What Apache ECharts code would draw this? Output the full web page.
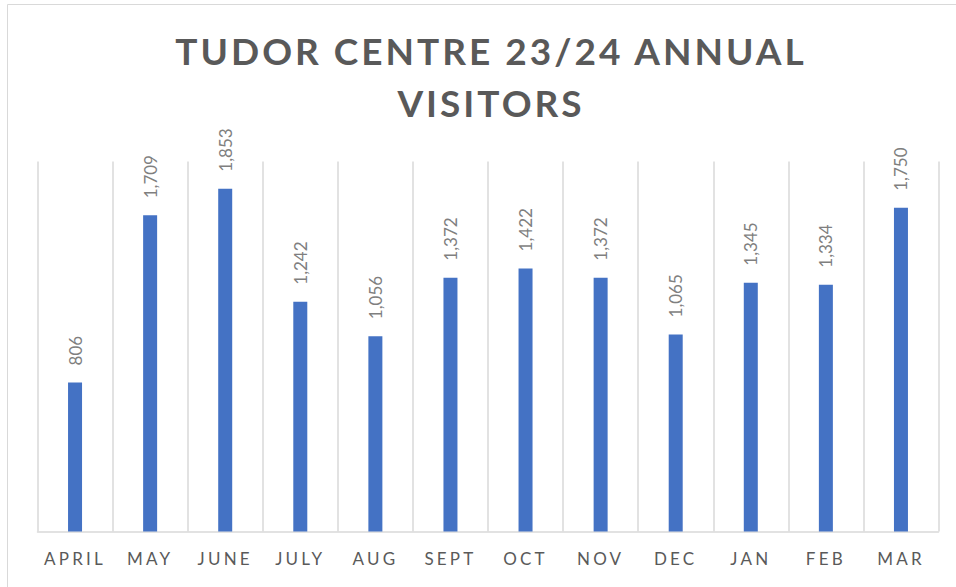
<!DOCTYPE html>
<html>
<head>
<meta charset="utf-8">
<script src="https://cdn.jsdelivr.net/npm/echarts@6/dist/echarts.min.js"></script>
<style>
  html, body { margin: 0; padding: 0; background: #ffffff; }
  #chart { width: 956px; height: 587px; }
  /* tracked capitals for the heading and month names */
  #chart text[fill="#595959"] { letter-spacing: 3px; }
  #chart text[fill="#5a5a5a"] { letter-spacing: 3.2px; }
</style>
</head>
<body>
<div id="chart"></div>
<script>
// Monthly visitor counts, April 2023 to March 2024
const months = ['APRIL', 'MAY', 'JUNE', 'JULY', 'AUG', 'SEPT', 'OCT', 'NOV', 'DEC', 'JAN', 'FEB', 'MAR'];
const visitors = [806, 1709, 1853, 1242, 1056, 1372, 1422, 1372, 1065, 1345, 1334, 1750];
const valueAxisMax = 2000;
const chartTitle = 'TUDOR CENTRE 23/24 ANNUAL\nVISITORS';

const chart = echarts.init(document.getElementById('chart'), null, { renderer: 'svg' });

chart.setOption({
  animation: false,
  backgroundColor: '#ffffff',
  graphic: [{
    type: 'rect',
    silent: true,
    shape: { x: 7.5, y: 4.5, width: 960, height: 600 },
    style: { fill: 'none', stroke: '#d9d9d9', lineWidth: 1 }
  }],
  title: {
    text: chartTitle,
    left: 486,
    top: 19,
    textAlign: 'center',
    textStyle: {
      fontFamily: 'Lato',
      fontWeight: 'bold',
      fontSize: 37,
      lineHeight: 52,
      color: '#595959'
    }
  },
  grid: { left: 37.5, right: 17.5, top: 161.5, bottom: 55.5 },
  xAxis: {
    type: 'category',
    data: months,
    axisLine: { lineStyle: { color: '#d9d9d9', width: 1.5 } },
    axisTick: { show: false },
    splitLine: { show: true, lineStyle: { color: '#d9d9d9', width: 1.5 } },
    axisLabel: {
      margin: 18,
      fontFamily: 'Lato',
      fontSize: 17,
      color: '#5a5a5a'
    }
  },
  yAxis: {
    type: 'value',
    min: 0,
    max: valueAxisMax,
    show: false,
    splitLine: { show: false }
  },
  series: [{
    type: 'bar',
    data: visitors,
    barWidth: 14,
    itemStyle: { color: '#4472c4' },
    label: {
      show: true,
      position: 'top',
      rotate: 90,
      align: 'left',
      verticalAlign: 'middle',
      distance: 17,
      fontFamily: 'Lato',
      fontSize: 17,
      color: '#7f7f7f',
      formatter: p => p.value.toLocaleString('en-US')
    }
  }]
});
</script>
</body>
</html>
